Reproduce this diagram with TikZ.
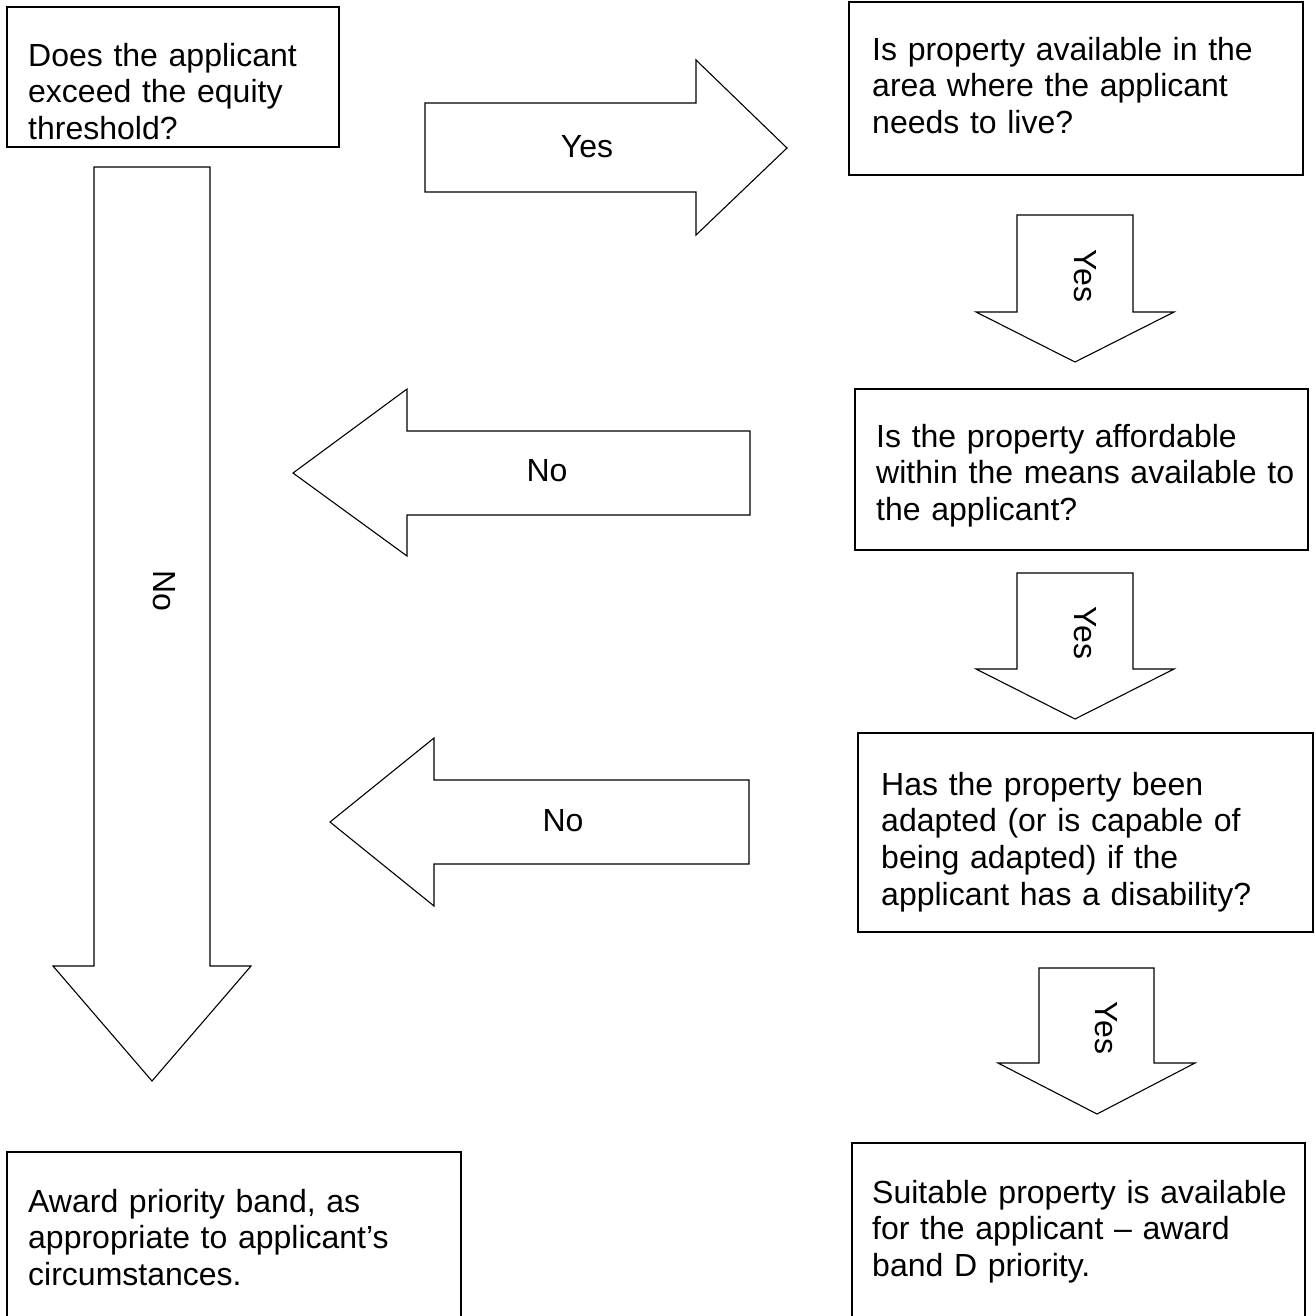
\documentclass[tikz,border=0pt]{standalone}
\usepackage{fontspec}
\setmainfont{Liberation Sans}
\begin{document}
\begin{tikzpicture}[x=1pt,y=-1pt,
  shapeline/.style={draw=black,line width=1.1pt,line join=miter,fill=white},
  boxtext/.style={anchor=base west,inner sep=0pt,text width=440pt,align=left,
    font=\fontsize{32}{36.8}\selectfont},
  arrowlabel/.style={inner sep=0pt,font=\fontsize{32}{36.8}\selectfont},
  vlabel/.style={arrowlabel,rotate=-90}]
\useasboundingbox (0,0) rectangle (1316,1315);
\fill[white] (0,0) rectangle (1316,1315);

% boxes
\draw[shapeline] (7,7) rectangle (339,147);
\node[boxtext] (t1) at (28,66) {Does the applicant\\exceed the equity\\threshold?};

\draw[shapeline] (849,2) rectangle (1303,175);
\node[boxtext] (t2) at (872,60) {Is property available in the\\area where the applicant\\needs to live?};

\draw[shapeline] (855,389) rectangle (1308,550);
\node[boxtext] (t3) at (876,447) {Is the property affordable\\within the means available to\\the applicant?};

\draw[shapeline] (858,733) rectangle (1313,932);
\node[boxtext] (t4) at (881,795) {Has the property been\\adapted (or is capable of\\being adapted) if the\\applicant has a disability?};

\draw[shapeline] (7,1318) -- (7,1152) -- (461,1152) -- (461,1318);
\node[boxtext] (t5) at (28,1212) {Award priority band, as\\appropriate to applicant’s\\circumstances.};

\draw[shapeline] (852,1318) -- (852,1143) -- (1305,1143) -- (1305,1318);
\node[boxtext] (t6) at (872,1203) {Suitable property is available\\for the applicant – award\\band D priority.};

% Yes right arrow
\draw[shapeline] (425,103) -- (696,103) -- (696,60) -- (787,148) -- (696,235) -- (696,192) -- (425,192) -- cycle;
\node[arrowlabel] (y1) at (587,147) {Yes};

% Yes down arrows
\draw[shapeline] (1017,215) -- (1133,215) -- (1133,312) -- (1174,312) -- (1075,362) -- (976,312) -- (1017,312) -- cycle;
\node[vlabel] (y2) at (1085,276) {Yes};

\draw[shapeline] (1017,573) -- (1133,573) -- (1133,669) -- (1174,669) -- (1075,719) -- (976,669) -- (1017,669) -- cycle;
\node[vlabel] (y3) at (1085,633) {Yes};

\draw[shapeline] (1039,968) -- (1154,968) -- (1154,1063) -- (1195,1063) -- (1097,1114) -- (998,1063) -- (1039,1063) -- cycle;
\node[vlabel] (y4) at (1106,1028) {Yes};

% No left arrows
\draw[shapeline] (750,431) -- (407,431) -- (407,389) -- (293,473) -- (407,556) -- (407,515) -- (750,515) -- cycle;
\node[arrowlabel] (n1) at (547,471) {No};

\draw[shapeline] (749,780) -- (434,780) -- (434,738) -- (330,822) -- (434,906) -- (434,864) -- (749,864) -- cycle;
\node[arrowlabel] (n2) at (563,821) {No};

% big No down arrow
\draw[shapeline] (94,167) -- (210,167) -- (210,966) -- (251,966) -- (152,1081) -- (53,966) -- (94,966) -- cycle;
\node[vlabel] (n3) at (164,591) {No};
\end{tikzpicture}
\end{document}
